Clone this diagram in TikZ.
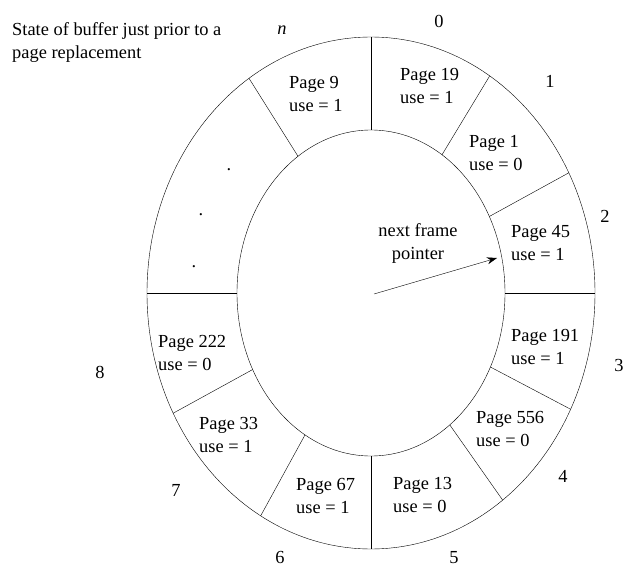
\documentclass[tikz,border=0pt]{standalone}
\usepackage{fontspec}
\setmainfont{Liberation Serif}
\usetikzlibrary{arrows.meta}

\begin{document}
\begin{tikzpicture}[x=1pt,y=-1pt,
  every node/.style={font=\fontsize{18.4}{23}\selectfont, inner sep=0pt},
  frame/.style={align=left, anchor=base west},
  slot/.style={anchor=base}]
\useasboundingbox (0,0) rectangle (638,578);

% the buffer ring
\draw (371,293) ellipse [x radius=224, y radius=256];
\draw (371,293) ellipse [x radius=134, y radius=163];
\foreach \a in {90,58,28,0,-27,-54,-90,-119.5,-152,180,123}
  \draw ({371+134*cos(\a)},{293-163*sin(\a)}) -- ({371+224*cos(\a)},{293-256*sin(\a)});

\node[frame] at (12,59) (title) {State of buffer just prior to a\\page replacement};

% frame numbers
\node[slot] at (282,35) (sn) {\textit{n}};
\node[slot] at (439,28) (s0) {0};
\node[slot] at (550,88) (s1) {1};
\node[slot] at (605,222) (s2) {2};
\node[slot] at (619,371) (s3) {3};
\node[slot] at (563,482) (s4) {4};
\node[slot] at (454,563) (s5) {5};
\node[slot] at (280,563) (s6) {6};
\node[slot] at (176,496) (s7) {7};
\node[slot] at (100,378) (s8) {8};

% frame contents
\node[frame] at (289,111) (p9) {Page 9\\use = 1};
\node[frame] at (400,103) (p19) {Page 19\\use = 1};
\node[frame] at (469,170) (p1) {Page 1\\use = 0};
\node[frame] at (511,260) (p45) {Page 45\\use = 1};
\node[frame] at (511,364) (p191) {Page 191\\use = 1};
\node[frame] at (476,446) (p556) {Page 556\\use = 0};
\node[frame] at (393,512) (p13) {Page 13\\use = 0};
\node[frame] at (296,513) (p67) {Page 67\\use = 1};
\node[frame] at (199,452) (p33) {Page 33\\use = 1};
\node[frame] at (158,370) (p222) {Page 222\\use = 0};

\node[slot] at (229,171) (d1) {.};
\node[slot] at (201,215) (d2) {.};
\node[slot] at (194,267) (d3) {.};

% pointer
\node[align=center, anchor=base] at (418,259) (ptr) {next frame\\pointer};
\coordinate (hub) at (374,294);
\coordinate (tip) at (497,258);
\draw[-{Stealth[length=10pt,width=7pt]}] (hub) -- (tip);
\end{tikzpicture}
\end{document}
